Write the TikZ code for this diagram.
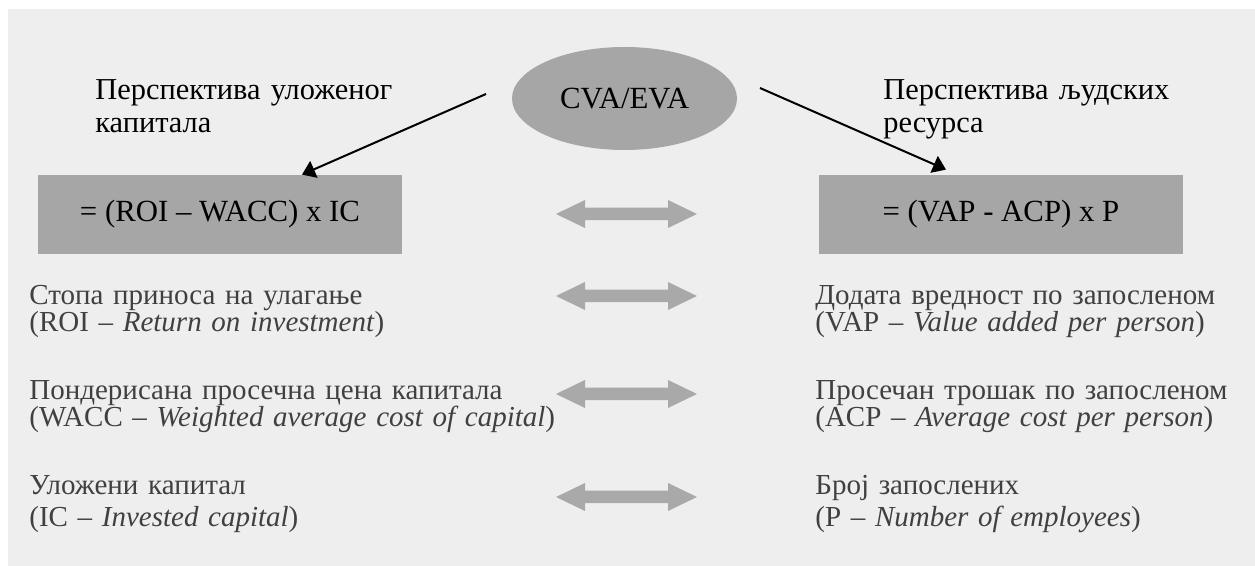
\documentclass[tikz,border=0pt]{standalone}
\usepackage{fontspec}
\setmainfont{Liberation Serif}
\usepackage{tikz}
\usetikzlibrary{arrows.meta,positioning,calc,shapes.geometric}

\definecolor{bggrey}{HTML}{EEEEEE}
\definecolor{boxgrey}{HTML}{A6A6A6}
\definecolor{arrgrey}{HTML}{A9A9A9}
\definecolor{txtgrey}{HTML}{404040}

\tikzset{
  formula/.style={rectangle,fill=boxgrey,minimum width=182pt,minimum height=39.5pt,
    inner sep=0pt,font=\fontsize{15.4}{18}\selectfont},
  persp/.style={anchor=base west,inner sep=0pt,align=left,text width=170pt,
    font=\fontsize{15.2}{16.5}\selectfont},
  term/.style={anchor=base west,inner sep=0pt,align=left,text width=219pt,text=txtgrey,
    font=\fontsize{14.5}{13.5}\selectfont},
  termwide/.style={term,font=\fontsize{14.5}{16}\selectfont},
  pointer/.style={line width=1pt,-{Triangle[length=6.5pt,width=9pt]}},
  dblarrow/.pic={
    \fill[arrgrey] (-70.5,0) -- (-41.5,-14) -- (-41.5,-6.25) -- (41.5,-6.25) -- (41.5,-14)
      -- (70.5,0) -- (41.5,14) -- (41.5,6.25) -- (-41.5,6.25) -- (-41.5,14) -- cycle;
  },
}

\begin{document}
\lineskiplimit=-10pt
\begin{tikzpicture}[x=0.5pt,y=-0.5pt]
  \useasboundingbox (0,0) rectangle (1255,566);
  \fill[bggrey] (8,9) rectangle (1255,566); % 背景
  \node[ellipse,fill=boxgrey,minimum width=112.5pt,minimum height=51.5pt,
    font=\fontsize{15.4}{18}\selectfont] (cva) at (624.5,98.5) {CVA/EVA}; % 中央の楕円
  \node[persp] (perspIC) at (95,100) {Перспектива уложеног\\капитала}; % 左の見出し
  \node[persp] (perspHR) at (883,100) {Перспектива људских\\ресурса}; % 右の見出し
  \node[formula] (roiBox) at (220,214.5) {= (ROI – WACC) x IC}; % 左の式
  \node[formula] (vapBox) at (1001,214.5) {= (VAP - ACP) x P}; % 右の式
  \coordinate (icStart) at (486,94);
  \coordinate (hrStart) at (760,88);
  \draw[pointer] (icStart) -- ([xshift=41pt]roiBox.north); % 左への矢印
  \draw[pointer] (hrStart) -- ([xshift=-27.5pt,yshift=2.5pt]vapBox.north); % 右への矢印
  \pic at (626.5,214) {dblarrow}; % 式どうし
  \pic at (626.5,296) {dblarrow};
  \pic at (626.5,394) {dblarrow};
  \pic at (626.5,497) {dblarrow};
  \node[term] (roiTxt) at (29,305) {Стопа приноса на улагање\\(ROI – \textit{Return on investment})};
  \node[term,text width=270pt] (waccTxt) at (29,400) {Пондерисана просечна цена капитала\\(WACC – \textit{Weighted average cost of capital})};
  \node[termwide] (icTxt) at (29,495) {Уложени капитал\\(IC – \textit{Invested capital})};
  \node[term] (vapTxt) at (815,305) {Додата вредност по запосленом\\(VAP – \textit{Value added per person})};
  \node[term] (acpTxt) at (815,400) {Просечан трошак по запосленом\\(ACP – \textit{Average cost per person})};
  \node[termwide] (empTxt) at (815,495) {Број запослених\\(P – \textit{Number of employees})};
\end{tikzpicture}
\end{document}
